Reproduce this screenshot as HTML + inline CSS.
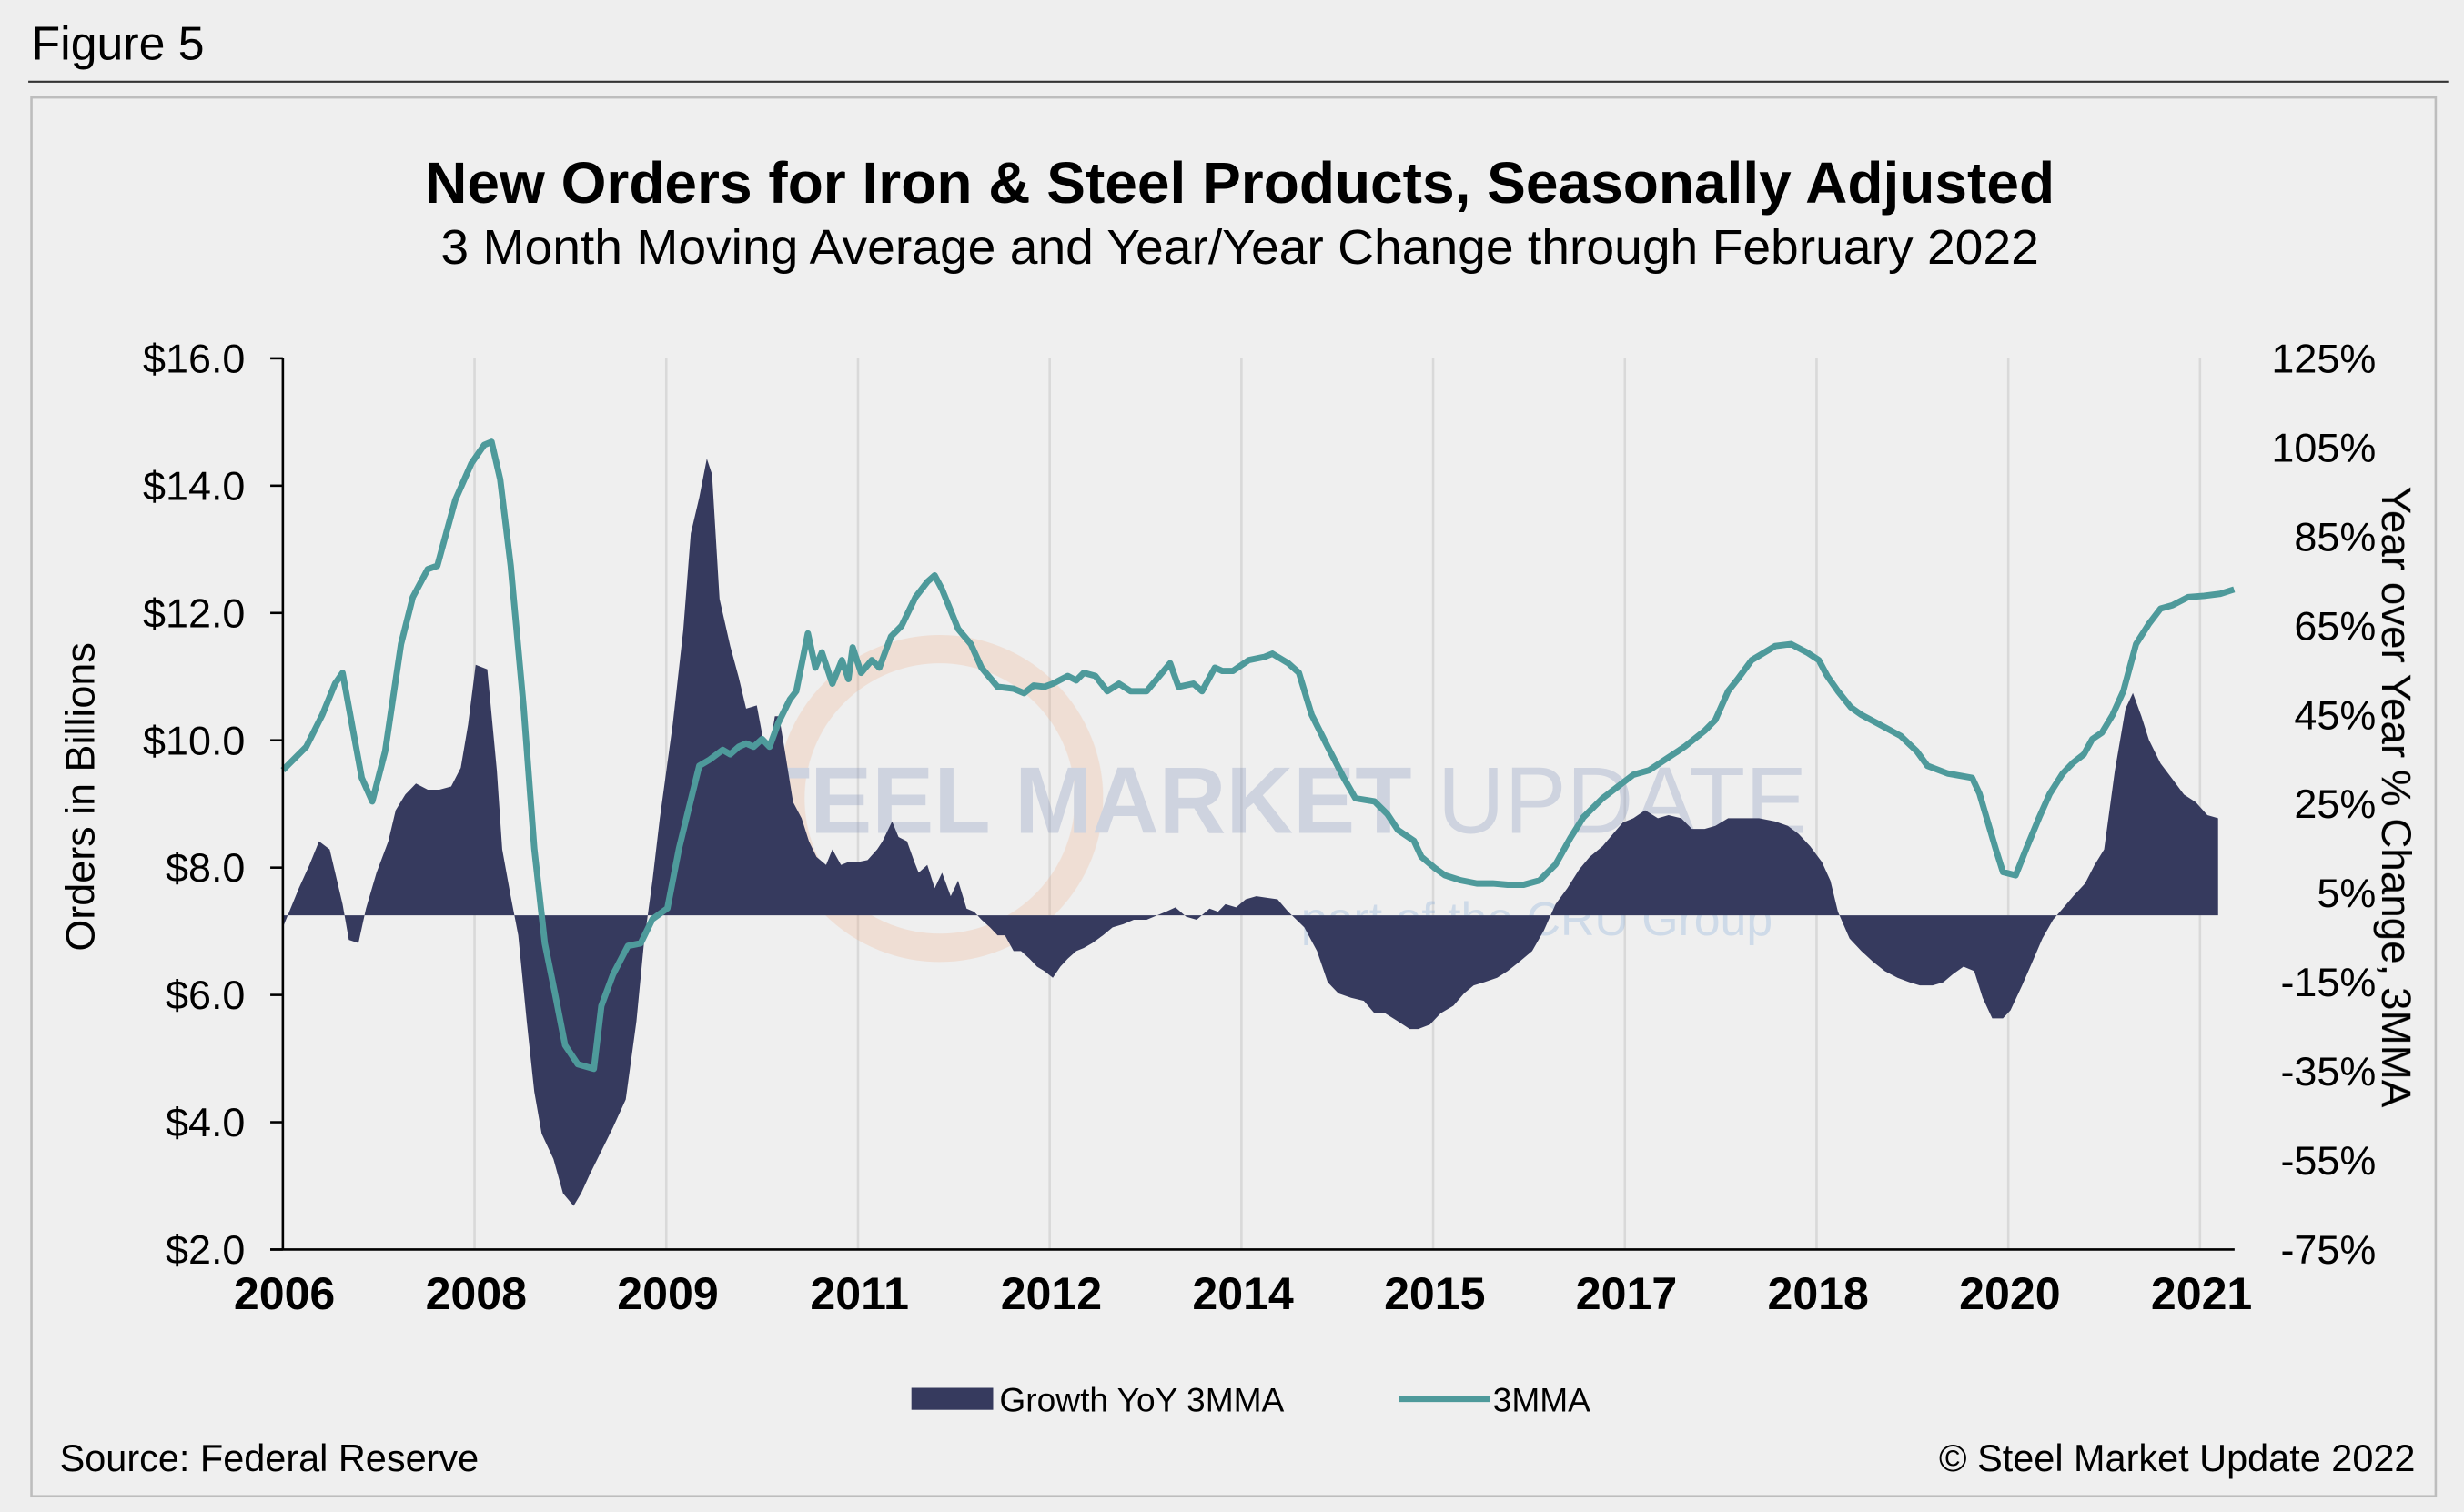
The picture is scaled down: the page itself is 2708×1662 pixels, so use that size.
<!DOCTYPE html>
<html><head><meta charset="utf-8"><style>
html,body{margin:0;padding:0;background:#eeeeee;}
svg{display:block;}
text{font-family:"Liberation Sans",Arial,sans-serif;}
</style></head><body>
<svg id="chart" width="2708" height="1662" viewBox="0 0 1568 962" preserveAspectRatio="none" xmlns="http://www.w3.org/2000/svg">
<rect x="0" y="0" width="1568" height="962" fill="#eeeeee"/>
<text x="20" y="38" font-size="30" fill="#000">Figure 5</text>
<line x1="18" y1="52" x2="1558" y2="52" stroke="#333" stroke-width="1.2"/>
<rect x="20" y="62" width="1530" height="890" fill="#efefef" stroke="#bdbdbd" stroke-width="1.5"/>
<text x="789" y="129" font-size="37" font-weight="bold" text-anchor="middle" textLength="1037" lengthAdjust="spacingAndGlyphs">New Orders for Iron &amp; Steel Products, Seasonally Adjusted</text>
<text x="789" y="168" font-size="31" text-anchor="middle" textLength="1017" lengthAdjust="spacingAndGlyphs">3 Month Moving Average and Year/Year Change through February 2022</text>
<g id="grid"></g>
<g opacity="0.3">
<circle cx="598" cy="508" r="95" fill="none" stroke="#f0a070" stroke-width="18" opacity="0.7"/>
<text x="795" y="530" font-size="60" font-weight="bold" fill="#8090b8" text-anchor="middle" textLength="710" lengthAdjust="spacingAndGlyphs">STEEL MARKET <tspan font-weight="normal">UPDATE</tspan></text>
<text x="978" y="595" font-size="30" fill="#80a8d8" text-anchor="middle">part of the CRU Group</text>
</g>
<g id="area"></g>
<g id="line"></g>
<g id="axes"></g>
<text transform="translate(60,507) rotate(-90)" font-size="26" text-anchor="middle">Orders in Billions</text>
<text transform="translate(1516,507) rotate(90)" font-size="26.5" text-anchor="middle">Year over Year % Change, 3MMA</text>
<g>
<rect x="580" y="883" width="52" height="14" fill="#363a5e"/>
<text x="636" y="898" font-size="21.5">Growth YoY 3MMA</text>
<line x1="890" y1="890" x2="948" y2="890" stroke="#4e9a9b" stroke-width="4"/>
<text x="950" y="898" font-size="21.5">3MMA</text>
</g>
<text x="38" y="936" font-size="24">Source: Federal Reserve</text>
<text x="1537" y="936" font-size="24" text-anchor="end">© Steel Market Update 2022</text>
</svg>
<script>
const xTickLabels=["2006","2008","2009","2011","2012","2014","2015","2017","2018","2020","2021"];
const leftTicks=[2,4,6,8,10,12,14,16];
const rightTicks=[-75,-55,-35,-15,5,25,45,65,85,105,125];
const lineMonths=[0,2.2,3.7,4.9,5.6,6.6,7.4,8.4,9.6,11.1,12.2,13.6,14.5,16.2,17.7,18.9,19.6,20.4,21.4,22.6,23.6,24.6,25.5,26.5,27.7,29.2,29.9,31.0,32.4,33.6,34.7,36.1,37.2,37.9,39.1,40.1,41.3,42.0,42.8,43.5,44.2,45.0,45.7,46.5,47.6,48.2,49.3,50.0,50.6,51.6,52.5,53.1,53.5,54.3,55.3,56.0,57.1,58.1,59.4,60.5,61.2,61.9,63.4,64.6,65.6,67.1,68.6,69.6,70.5,71.5,72.3,73.7,74.5,75.2,76.3,77.4,78.5,79.6,81.1,83.3,84.1,85.5,86.3,87.5,88.2,89.2,90.7,92.2,92.9,94.4,95.4,96.6,98.1,99.6,100.7,102.5,103.7,104.7,106.2,106.9,108.1,109.1,110.6,112.1,113.6,115.0,116.5,118.0,119.5,120.9,122.1,123.9,125.4,126.8,128.3,129.8,131.6,133.5,134.5,135.7,136.6,137.9,140.1,141.6,143.1,144.2,145.0,146.0,147.2,148.2,149.7,151.9,153.4,154.4,156.3,158.6,159.3,160.8,161.5,162.7,163.7,164.9,165.9,167.1,168.1,169.1,169.9,170.8,171.8,172.8,174.0,175.2,176.3,177.4,178.9,180.4,181.9,183.2];
const lineValues=[9.53,9.90,10.40,10.89,11.06,10.15,9.41,9.04,9.83,11.51,12.25,12.69,12.74,13.78,14.35,14.64,14.69,14.10,12.74,10.52,8.30,6.81,6.07,5.21,4.91,4.84,5.83,6.32,6.77,6.81,7.19,7.36,8.30,8.79,9.60,9.70,9.85,9.78,9.90,9.95,9.90,10.02,9.90,10.27,10.64,10.77,11.68,11.14,11.38,10.89,11.26,10.96,11.46,11.06,11.26,11.14,11.63,11.80,12.25,12.49,12.59,12.37,11.75,11.51,11.14,10.84,10.81,10.74,10.86,10.84,10.89,11.01,10.94,11.06,11.01,10.77,10.89,10.77,10.77,11.21,10.84,10.89,10.77,11.14,11.09,11.09,11.26,11.31,11.36,11.21,11.06,10.40,9.90,9.41,9.09,9.04,8.84,8.59,8.42,8.17,8.00,7.88,7.80,7.75,7.75,7.73,7.73,7.80,8.05,8.47,8.79,9.09,9.28,9.46,9.53,9.70,9.90,10.15,10.32,10.77,10.96,11.26,11.48,11.51,11.38,11.26,11.01,10.77,10.52,10.40,10.27,10.07,9.83,9.60,9.48,9.41,9.16,8.30,7.93,7.88,8.30,8.79,9.16,9.48,9.65,9.78,10.02,10.12,10.40,10.77,11.51,11.83,12.07,12.12,12.25,12.27,12.30,12.37];
const areaMonths=[0,1.5,2.5,3.4,4.4,5.6,6.2,7.1,7.8,8.8,9.9,10.6,11.5,12.5,13.6,14.7,15.8,16.7,17.4,18.1,19.2,20.1,20.6,21.4,22.1,22.9,23.6,24.3,25.4,26.3,27.3,28.0,28.8,29.9,31.0,32.2,33.2,33.9,34.7,35.4,36.6,37.6,38.3,39.1,39.8,40.3,41.0,42.0,42.8,43.5,44.5,45.1,45.7,46.2,46.6,47.2,47.9,48.7,49.4,50.1,51.0,51.6,52.4,53.1,54.0,54.9,55.8,56.3,57.2,57.8,58.6,59.3,59.7,60.5,61.2,61.9,62.7,63.4,64.2,64.9,65.6,66.4,67.1,67.8,68.6,69.3,70.1,70.8,71.5,72.3,73.0,73.7,74.5,75.2,76.0,77.0,77.9,78.9,79.9,81.1,82.2,82.9,83.8,84.8,85.8,87.0,87.8,88.5,89.5,90.4,91.4,92.5,93.4,94.4,95.9,97.1,98.1,99.1,100.3,101.5,102.5,103.5,104.7,105.8,106.6,107.7,108.7,109.9,110.9,111.8,112.8,114.0,115.0,116.1,117.3,118.4,119.5,120.6,121.7,122.7,123.9,124.9,125.8,126.8,127.9,129.1,130.1,131.3,132.3,133.5,134.5,135.7,137.2,138.6,140.1,141.3,142.3,143.4,144.5,145.3,146.0,147.1,148.2,149.3,150.4,151.6,152.7,153.7,154.9,155.9,156.8,157.8,158.8,159.6,160.5,161.5,162.2,163.3,164.2,165.2,166.2,167.1,168.1,169.2,170.1,171.0,172.0,173.0,173.7,174.5,175.2,176.3,177.4,178.5,179.6,180.7,181.7];
const areaValues=[-2.7,6.1,11.3,16.6,14.8,2.5,-5.5,-6.2,1.5,9.6,16.6,23.6,27.1,29.6,28.2,28.2,28.9,33.1,42.9,56.2,55.2,32.4,14.8,4.3,-4.5,-23.8,-39.6,-49.0,-54.7,-62.4,-65.2,-62.4,-58.2,-52.9,-47.6,-41.3,-23.8,-6.2,7.8,21.8,42.9,64.0,85.7,93.8,102.5,99.0,71.0,60.4,53.4,46.4,47.1,39.4,37.6,44.7,44.7,35.9,25.4,21.8,16.6,13.1,11.3,14.8,11.3,12.0,12.0,12.4,14.8,16.6,21.1,17.6,16.6,12.0,9.6,11.3,6.1,9.6,4.3,7.8,1.5,0.8,-1.0,-2.7,-4.5,-4.5,-8.0,-8.0,-9.7,-11.5,-12.5,-14.0,-11.5,-9.7,-8.0,-7.3,-6.2,-4.5,-2.7,-2.0,-1.0,-1.0,0.1,0.8,1.8,-0.3,-1.0,1.5,0.8,2.5,1.8,3.6,4.3,3.9,3.6,0.8,-2.7,-8.0,-15.0,-17.5,-18.5,-19.2,-22.0,-22.0,-23.8,-25.5,-25.5,-24.5,-22.0,-20.3,-17.5,-15.7,-15.0,-14.0,-12.5,-10.4,-8.0,-3.4,2.5,6.1,10.3,13.1,15.5,18.3,20.8,21.8,23.6,21.8,22.5,21.8,19.4,19.4,20.1,21.8,21.8,21.8,21.1,20.1,18.3,15.5,12.0,7.8,0.8,-5.2,-8.0,-10.4,-12.5,-14.0,-15.0,-15.7,-15.7,-15.0,-13.2,-11.5,-12.5,-18.5,-23.1,-23.1,-21.3,-15.7,-10.8,-5.2,-1.0,1.5,4.3,7.1,11.3,14.8,32.4,46.4,49.9,44.7,39.4,34.1,30.6,27.1,25.4,22.5,21.8];

const NS="http://www.w3.org/2000/svg";
const PL=180,PR=1422,PT=228,PB=795;
const MONTHS_PER_TICK=18, PX_PER_MONTH=122/18;
function xOf(m){return PL+m*PX_PER_MONTH;}
function yL(v){return PB-(v-2)/14*(PB-PT);}
function yR(p){return PB-(p+75)/200*(PB-PT);}
function mk(tag,attrs,parent){const e=document.createElementNS(NS,tag);for(const k in attrs)e.setAttribute(k,attrs[k]);parent.appendChild(e);return e;}

const grid=document.getElementById('grid');
xTickLabels.forEach((lab,i)=>{
  const x=xOf(i*MONTHS_PER_TICK);
  if(i>0){const g=mk('line',{x1:x,y1:PT,x2:x,y2:PB,stroke:'#d9d9d9','stroke-width':1.5},grid);
  
  }
});
const axes=document.getElementById('axes');
let a=mk('line',{x1:PL,y1:PT,x2:PL,y2:PB,stroke:'#000','stroke-width':1.5},axes);


a=mk('line',{x1:PL-8,y1:PB,x2:PR,y2:PB,stroke:'#000','stroke-width':1.5},axes);


leftTicks.forEach(v=>{
  const y=yL(v);
  const t=mk('line',{x1:PL-8,y1:y,x2:PL,y2:y,stroke:'#000','stroke-width':1.5},axes);
  
  
  const tx=mk('text',{x:PL-24,y:y+9,'font-size':26,'text-anchor':'end'},axes);
  tx.textContent='$'+v.toFixed(1);
  
  
});
rightTicks.forEach(p=>{
  const y=yR(p);
  const tx=mk('text',{x:1512,y:y+9,'font-size':26,'text-anchor':'end'},axes);
  tx.textContent=p+'%';
  
  
});
xTickLabels.forEach((lab,i)=>{
  const tx=mk('text',{x:xOf(i*MONTHS_PER_TICK)+1,y:833,'font-size':29,'font-weight':'bold','text-anchor':'middle'},axes);
  tx.textContent=lab;
  
  
});

const area=document.getElementById('area');
const y0=yR(0);
let d='M'+xOf(areaMonths[0])+','+y0;
areaMonths.forEach((m,i)=>{d+=' L'+xOf(m).toFixed(1)+','+yR(areaValues[i]).toFixed(1);});
d+=' L'+xOf(areaMonths[areaMonths.length-1])+','+y0+' Z';
const ap=mk('path',{d:d,fill:'#363a5e'},area);



const line=document.getElementById('line');
let ld='';
lineMonths.forEach((m,i)=>{ld+=(i?' L':'M')+xOf(m).toFixed(1)+','+yL(lineValues[i]).toFixed(1);});
const lp=mk('path',{d:ld,fill:'none',stroke:'#4e9a9b','stroke-width':4,'stroke-linejoin':'round'},line);


</script>
</body></html>
